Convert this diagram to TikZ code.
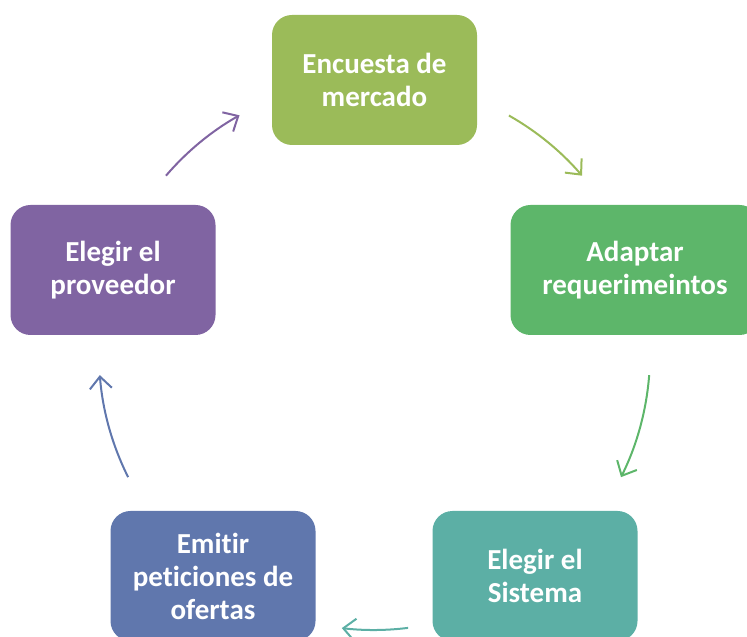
\documentclass[tikz,border=0pt]{standalone}
\usepackage{fontspec}
\setmainfont{Carlito}[Ligatures=NoCommon]
\usetikzlibrary{arrows.meta,calc}
\definecolor{cA}{HTML}{9BBB59}
\definecolor{cB}{HTML}{5DB66A}
\definecolor{cC}{HTML}{5CAFA5}
\definecolor{cD}{HTML}{6077AD}
\definecolor{cE}{HTML}{8064A2}
\tikzset{
  cyclebox/.style={rounded corners=20pt, minimum height=130pt, minimum width=205pt,
    text=white, align=center, inner sep=0pt,
    font=\fontsize{29}{33}\selectfont\bfseries},
  cyclearrow/.style={line width=2pt, -{Straight Barb[length=12pt,width=22pt,line width=2pt]}}
}
\begin{document}
\begin{tikzpicture}[x=1pt,y=1pt]
\useasboundingbox (0,0) rectangle (747,637);
\clip (0,0) rectangle (747,637);
\node[cyclebox, fill=cA] (b1) at (374.5,557) {Encuesta de\\mercado};
\node[cyclebox, fill=cB, minimum width=249pt] (b2) at (635,367) {Adaptar\\requerimeintos};
\node[cyclebox, fill=cC] (b3) at (535,61) {Elegir el\\Sistema};
\node[cyclebox, fill=cD] (b4) at (213,61) {Emitir\\peticiones de\\ofertas};
\node[cyclebox, fill=cE] (b5) at (113,367) {Elegir el\\proveedor};
\coordinate (C) at (374,283);
\coordinate (s1) at ($(C)+(60.5:274)$);
\coordinate (s2) at ($(C)+(-4.4:276)$);
\coordinate (s3) at ($(C)+(-82.9:276)$);
\coordinate (s4) at ($(C)+(206.6:275)$);
\coordinate (s5) at ($(C)+(139.4:274)$);
\draw[cyclearrow, cA] (s1) arc[start angle=60.5, end angle=40.6, radius=274];
\draw[cyclearrow, cB] (s2) arc[start angle=-4.4, end angle=-26.5, radius=276];
\draw[cyclearrow, cC] (s3) arc[start angle=-82.9, end angle=-96.7, radius=276];
\draw[cyclearrow, cD] (s4) arc[start angle=206.6, end angle=184.4, radius=275];
\draw[cyclearrow, cE] (s5) arc[start angle=139.4, end angle=119.4, radius=274];
\end{tikzpicture}
\end{document}
